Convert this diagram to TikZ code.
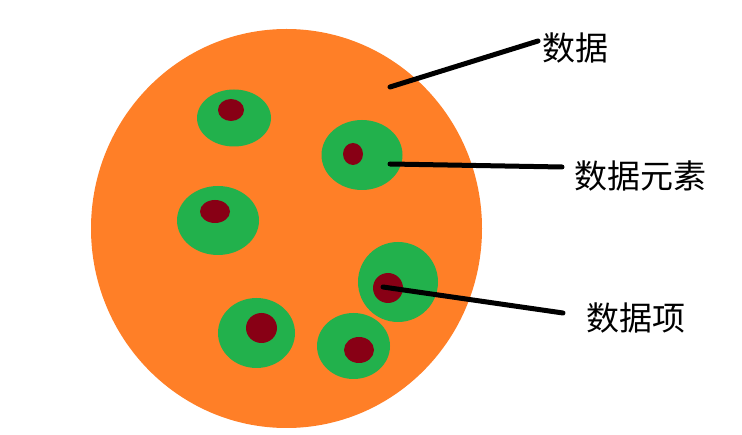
\documentclass[tikz,border=0pt]{standalone}
\usepackage{fontspec}
\newfontfamily\cjk{Noto Sans CJK SC}
\usetikzlibrary{shapes.geometric}
\definecolor{paintorange}{RGB}{255,127,39}
\definecolor{paintgreen}{RGB}{34,177,76}
\definecolor{paintred}{RGB}{136,0,21}
\tikzset{
  blob/.style={ellipse, inner sep=0pt, draw=none},
  whole/.style={blob, fill=paintorange},
  elem/.style={blob, fill=paintgreen},
  item/.style={blob, fill=paintred},
  lbl/.style={font=\cjk\fontsize{33}{35}\selectfont, inner sep=0pt, text=black},
  leader/.style={line width=5pt, line cap=round, draw=black}
}
\begin{document}
\begin{tikzpicture}[x=1pt,y=-1pt]
\useasboundingbox (0,0) rectangle (742,435);
\fill[white] (0,0) rectangle (742,435);
% whole data
\node[whole, minimum width=391pt, minimum height=399pt] (data) at (286.5,228.5) {};
% data elements
\node[elem, minimum width=74pt, minimum height=57pt] (e1) at (234,118) {};
\node[elem, minimum width=81pt, minimum height=70pt] (e2) at (362,155) {};
\node[elem, minimum width=82pt, minimum height=69pt] (e3) at (218,220.5) {};
\node[elem, minimum width=80pt, minimum height=80pt] (e4) at (398,282) {};
\node[elem, minimum width=77pt, minimum height=70pt] (e5) at (256.5,333) {};
\node[elem, minimum width=73pt, minimum height=66pt] (e6) at (353.5,346) {};
% data items
\node[item, minimum width=26pt, minimum height=22pt] (i1) at (231,110) {};
\node[item, minimum width=20pt, minimum height=22pt] (i2) at (353,154) {};
\node[item, minimum width=30pt, minimum height=23pt] (i3) at (215,211.5) {};
\node[item, minimum width=30pt, minimum height=30pt] (i4) at (388,288) {};
\node[item, minimum width=31pt, minimum height=30pt] (i5) at (261.5,328) {};
\node[item, minimum width=30pt, minimum height=26pt] (i6) at (359,350) {};
% labels
\node[lbl] (l1) at (575,48) {数据};
\node[lbl] (l2) at (640,176) {数据元素};
\node[lbl] (l3) at (636,318) {数据项};
% leader line ends
\coordinate (p1) at (390,87);
\coordinate (q1) at (538,41);
\coordinate (p2) at (390,164);
\coordinate (q2) at (562,167);
\coordinate (p3) at (383,287);
\coordinate (q3) at (563,313);
\draw[leader] (p1) -- (q1);
\draw[leader] (p2) -- (q2);
\draw[leader] (p3) -- (q3);
\end{tikzpicture}
\end{document}
